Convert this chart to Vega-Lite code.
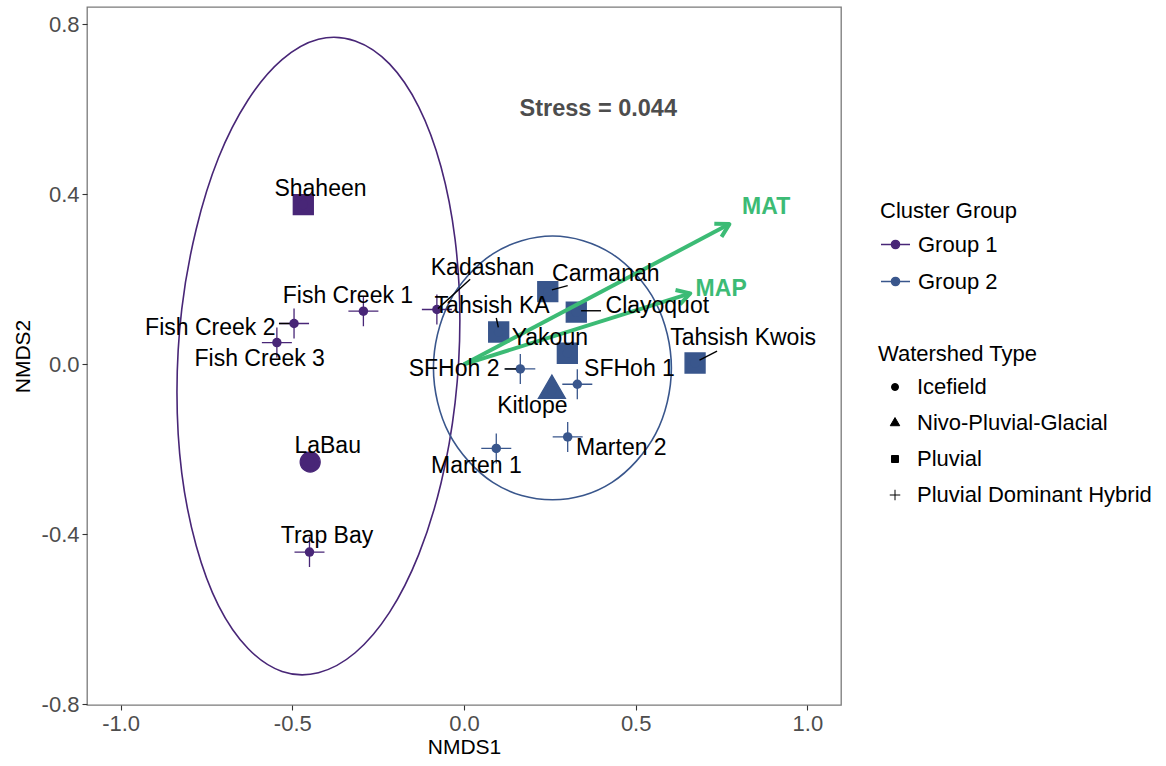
{
  "$schema": "https://vega.github.io/schema/vega-lite/v6.json",
  "width": 754,
  "height": 698,
  "autosize": {"type": "none"},
  "padding": {"left": 87, "top": 7, "right": 325, "bottom": 61},
  "background": "white",
  "config": {
    "font": "Liberation Sans",
    "view": {"stroke": "#7A7A7A", "strokeWidth": 1.3},
    "axis": {
      "domain": false,
      "grid": false,
      "tickColor": "#333333",
      "tickSize": 5,
      "tickWidth": 1.1,
      "labelFont": "Liberation Sans",
      "labelFontSize": 22,
      "labelColor": "#4D4D4D",
      "labelPadding": 3,
      "titleFont": "Liberation Sans",
      "titleFontSize": 21,
      "titleFontWeight": "normal",
      "titleColor": "black"
    },
    "axisX": {"titlePadding": 2},
    "axisY": {"titlePadding": 8},
    "legend": {
      "padding": 0,
      "titleFont": "Liberation Sans",
      "titleFontSize": 22,
      "titleFontWeight": "normal",
      "titleColor": "black",
      "labelFont": "Liberation Sans",
      "labelFontSize": 22,
      "labelColor": "black",
      "labelLimit": 0
    }
  },
  "datasets": {
    "sites": [
      {"name": "Shaheen", "group": "Group 1", "type": "Pluvial", "x": -0.468, "y": 0.376, "lx": -0.418, "ly": 0.412},
      {"name": "Fish Creek 1", "group": "Group 1", "type": "Pluvial Dominant Hybrid", "x": -0.293, "y": 0.125, "lx": -0.338, "ly": 0.160},
      {"name": "Fish Creek 2", "group": "Group 1", "type": "Pluvial Dominant Hybrid", "x": -0.495, "y": 0.096, "lx": -0.739, "ly": 0.086},
      {"name": "Fish Creek 3", "group": "Group 1", "type": "Pluvial Dominant Hybrid", "x": -0.545, "y": 0.051, "lx": -0.595, "ly": 0.012},
      {"name": "Kadashan", "group": "Group 1", "type": "Pluvial Dominant Hybrid", "x": -0.079, "y": 0.129, "lx": 0.054, "ly": 0.227},
      {"name": "LaBau", "group": "Group 1", "type": "Icefield", "x": -0.448, "y": -0.230, "lx": -0.397, "ly": -0.192},
      {"name": "Trap Bay", "group": "Group 1", "type": "Pluvial Dominant Hybrid", "x": -0.450, "y": -0.442, "lx": -0.399, "ly": -0.405},
      {"name": "Carmanah", "group": "Group 2", "type": "Pluvial", "x": 0.244, "y": 0.171, "lx": 0.413, "ly": 0.212},
      {"name": "Clayoquot", "group": "Group 2", "type": "Pluvial", "x": 0.327, "y": 0.123, "lx": 0.563, "ly": 0.137},
      {"name": "Tahsish KA", "group": "Group 2", "type": "Pluvial", "x": 0.101, "y": 0.076, "lx": 0.082, "ly": 0.137},
      {"name": "Yakoun", "group": "Group 2", "type": "Pluvial", "x": 0.301, "y": 0.026, "lx": 0.250, "ly": 0.063},
      {"name": "SFHoh 2", "group": "Group 2", "type": "Pluvial Dominant Hybrid", "x": 0.164, "y": -0.011, "lx": -0.029, "ly": -0.011},
      {"name": "SFHoh 1", "group": "Group 2", "type": "Pluvial Dominant Hybrid", "x": 0.330, "y": -0.047, "lx": 0.482, "ly": -0.011},
      {"name": "Kitlope", "group": "Group 2", "type": "Nivo-Pluvial-Glacial", "x": 0.256, "y": -0.062, "lx": 0.199, "ly": -0.098},
      {"name": "Tahsish Kwois", "group": "Group 2", "type": "Pluvial", "x": 0.673, "y": 0.003, "lx": 0.813, "ly": 0.063},
      {"name": "Marten 2", "group": "Group 2", "type": "Pluvial Dominant Hybrid", "x": 0.302, "y": -0.171, "lx": 0.458, "ly": -0.196},
      {"name": "Marten 1", "group": "Group 2", "type": "Pluvial Dominant Hybrid", "x": 0.094, "y": -0.198, "lx": 0.036, "ly": -0.239}
    ],
    "segments": [
      {"name": "Fish Creek 2", "x": -0.539, "y": 0.096, "x2": -0.508, "y2": 0.096},
      {"name": "Kadashan", "x": 0.018, "y": 0.200, "x2": -0.076, "y2": 0.131},
      {"name": "Tahsish KA", "x": 0.094, "y": 0.109, "x2": 0.100, "y2": 0.087},
      {"name": "Carmanah", "x": 0.256, "y": 0.175, "x2": 0.302, "y2": 0.185},
      {"name": "Clayoquot", "x": 0.341, "y": 0.126, "x2": 0.399, "y2": 0.126},
      {"name": "Tahsish Kwois", "x": 0.686, "y": 0.010, "x2": 0.737, "y2": 0.031},
      {"name": "SFHoh 2", "x": 0.118, "y": -0.011, "x2": 0.152, "y2": -0.011}
    ],
    "ellipses": [
      {"group": "Group 1", "i": 0, "x": -0.012, "y": 0.104},
      {"group": "Group 1", "i": 1, "x": -0.026, "y": 0.294},
      {"group": "Group 1", "i": 2, "x": -0.067, "y": 0.465},
      {"group": "Group 1", "i": 3, "x": -0.132, "y": 0.606},
      {"group": "Group 1", "i": 4, "x": -0.217, "y": 0.707},
      {"group": "Group 1", "i": 5, "x": -0.317, "y": 0.761},
      {"group": "Group 1", "i": 6, "x": -0.424, "y": 0.765},
      {"group": "Group 1", "i": 7, "x": -0.530, "y": 0.717},
      {"group": "Group 1", "i": 8, "x": -0.629, "y": 0.622},
      {"group": "Group 1", "i": 9, "x": -0.715, "y": 0.486},
      {"group": "Group 1", "i": 10, "x": -0.780, "y": 0.318},
      {"group": "Group 1", "i": 11, "x": -0.822, "y": 0.130},
      {"group": "Group 1", "i": 12, "x": -0.836, "y": -0.066},
      {"group": "Group 1", "i": 13, "x": -0.822, "y": -0.256},
      {"group": "Group 1", "i": 14, "x": -0.780, "y": -0.427},
      {"group": "Group 1", "i": 15, "x": -0.715, "y": -0.568},
      {"group": "Group 1", "i": 16, "x": -0.629, "y": -0.669},
      {"group": "Group 1", "i": 17, "x": -0.530, "y": -0.723},
      {"group": "Group 1", "i": 18, "x": -0.424, "y": -0.726},
      {"group": "Group 1", "i": 19, "x": -0.317, "y": -0.679},
      {"group": "Group 1", "i": 20, "x": -0.217, "y": -0.584},
      {"group": "Group 1", "i": 21, "x": -0.132, "y": -0.448},
      {"group": "Group 1", "i": 22, "x": -0.067, "y": -0.280},
      {"group": "Group 1", "i": 23, "x": -0.026, "y": -0.091},
      {"group": "Group 2", "i": 0, "x": 0.604, "y": -0.009},
      {"group": "Group 2", "i": 1, "x": 0.592, "y": 0.071},
      {"group": "Group 2", "i": 2, "x": 0.558, "y": 0.146},
      {"group": "Group 2", "i": 3, "x": 0.502, "y": 0.210},
      {"group": "Group 2", "i": 4, "x": 0.431, "y": 0.260},
      {"group": "Group 2", "i": 5, "x": 0.347, "y": 0.291},
      {"group": "Group 2", "i": 6, "x": 0.258, "y": 0.302},
      {"group": "Group 2", "i": 7, "x": 0.168, "y": 0.291},
      {"group": "Group 2", "i": 8, "x": 0.084, "y": 0.260},
      {"group": "Group 2", "i": 9, "x": 0.013, "y": 0.210},
      {"group": "Group 2", "i": 10, "x": -0.043, "y": 0.146},
      {"group": "Group 2", "i": 11, "x": -0.077, "y": 0.071},
      {"group": "Group 2", "i": 12, "x": -0.089, "y": -0.009},
      {"group": "Group 2", "i": 13, "x": -0.077, "y": -0.089},
      {"group": "Group 2", "i": 14, "x": -0.043, "y": -0.164},
      {"group": "Group 2", "i": 15, "x": 0.013, "y": -0.228},
      {"group": "Group 2", "i": 16, "x": 0.084, "y": -0.278},
      {"group": "Group 2", "i": 17, "x": 0.168, "y": -0.309},
      {"group": "Group 2", "i": 18, "x": 0.258, "y": -0.319},
      {"group": "Group 2", "i": 19, "x": 0.347, "y": -0.309},
      {"group": "Group 2", "i": 20, "x": 0.431, "y": -0.278},
      {"group": "Group 2", "i": 21, "x": 0.502, "y": -0.228},
      {"group": "Group 2", "i": 22, "x": 0.558, "y": -0.164},
      {"group": "Group 2", "i": 23, "x": 0.592, "y": -0.089}
    ],
    "arrows": [
      {"part": "MAT shaft", "i": 0, "x": 0.0, "y": 0.0},
      {"part": "MAT shaft", "i": 1, "x": 0.773, "y": 0.330},
      {"part": "MAT head", "i": 0, "x": 0.750, "y": 0.300},
      {"part": "MAT head", "i": 1, "x": 0.773, "y": 0.330},
      {"part": "MAT head", "i": 2, "x": 0.729, "y": 0.331},
      {"part": "MAP shaft", "i": 0, "x": 0.0, "y": 0.0},
      {"part": "MAP shaft", "i": 1, "x": 0.659, "y": 0.167},
      {"part": "MAP head", "i": 0, "x": 0.629, "y": 0.141},
      {"part": "MAP head", "i": 1, "x": 0.659, "y": 0.167},
      {"part": "MAP head", "i": 2, "x": 0.616, "y": 0.175}
    ],
    "vectors": [
      {"var": "MAT", "x": 0.880, "y": 0.370},
      {"var": "MAP", "x": 0.749, "y": 0.178}
    ],
    "stress": [
      {"label": "Stress = 0.044", "x": 0.391, "y": 0.601}
    ]
  },
  "layer": [
    {
      "data": {"name": "ellipses"},
      "mark": {"type": "line", "interpolate": "cardinal-closed", "strokeWidth": 1.6},
      "encoding": {
        "x": {"field": "x", "type": "quantitative", "title": "NMDS1",
              "scale": {"domain": [-1.098, 1.098], "nice": false, "zero": false},
              "axis": {"values": [-1, -0.5, 0, 0.5, 1], "format": ".1f", "labelExpr": "replace(datum.label, '−', '-')"}},
        "y": {"field": "y", "type": "quantitative", "title": "NMDS2",
              "scale": {"domain": [-0.802, 0.841], "nice": false, "zero": false},
              "axis": {"values": [-0.8, -0.4, 0, 0.4, 0.8], "format": ".1f", "labelExpr": "replace(datum.label, '−', '-')"}},
        "color": {"field": "group", "type": "nominal",
                  "scale": {"domain": ["Group 1", "Group 2"], "range": ["#482677", "#39568C"]},
                  "legend": {
                    "title": "Cluster Group",
                    "orient": "none",
                    "legendX": 793,
                    "legendY": 194,
                    "symbolType": "M-1,0H1M0.28,0A0.28,0.28 0 1,1 -0.28,0A0.28,0.28 0 1,1 0.28,0Z",
                    "symbolSize": 841,
                    "symbolStrokeWidth": 1.5,
                    "labelOffset": 7,
                    "rowPadding": 10,
                    "titlePadding": 6
                  }},
        "order": {"field": "i", "type": "quantitative"}
      }
    },
    {
      "data": {"name": "sites"},
      "mark": {"type": "point", "filled": true, "size": 400, "strokeWidth": 1.3, "opacity": 1},
      "encoding": {
        "x": {"field": "x", "type": "quantitative", "title": "NMDS1", "scale": {"domain": [-1.098, 1.098], "nice": false, "zero": false}},
        "y": {"field": "y", "type": "quantitative", "title": "NMDS2", "scale": {"domain": [-0.802, 0.841], "nice": false, "zero": false}},
        "shape": {"field": "type", "type": "nominal",
                  "scale": {"domain": ["Icefield", "Nivo-Pluvial-Glacial", "Pluvial", "Pluvial Dominant Hybrid"],
                            "range": ["circle", "M0,-1.55L1.35,0.78L-1.35,0.78Z", "square", "M-1.5,0H1.5M0,-1.5V1.5"]},
                  "legend": {
                    "title": "Watershed Type",
                    "orient": "none",
                    "legendX": 791,
                    "legendY": 337,
                    "symbolSize": 49,
                    "symbolOffset": 6,
                    "symbolFillColor": "black",
                    "symbolStrokeColor": "black",
                    "symbolStrokeWidth": 1,
                    "labelOffset": 11,
                    "rowPadding": 14,
                    "titlePadding": 10,
                    "encode": {
                      "symbols": {"fill": {"value": "black"}, "stroke": {"value": "black"}, "strokeWidth": {"value": 1}, "opacity": {"value": 1}}
                    }
                  }},
        "color": {"field": "group", "type": "nominal", "scale": {"domain": ["Group 1", "Group 2"], "range": ["#482677", "#39568C"]}},
        "stroke": {"field": "group", "type": "nominal", "scale": {"domain": ["Group 1", "Group 2"], "range": ["#482677", "#39568C"]}, "legend": null}
      }
    },
    {
      "data": {"name": "sites"},
      "mark": {"type": "circle", "size": 90, "opacity": 1},
      "encoding": {
        "x": {"field": "x", "type": "quantitative", "title": "NMDS1", "scale": {"domain": [-1.098, 1.098], "nice": false, "zero": false}},
        "y": {"field": "y", "type": "quantitative", "title": "NMDS2", "scale": {"domain": [-0.802, 0.841], "nice": false, "zero": false}},
        "color": {"field": "group", "type": "nominal", "scale": {"domain": ["Group 1", "Group 2"], "range": ["#482677", "#39568C"]}}
      }
    },
    {
      "data": {"name": "segments"},
      "mark": {"type": "rule", "color": "black", "strokeWidth": 1.4},
      "encoding": {
        "x": {"field": "x", "type": "quantitative", "title": "NMDS1", "scale": {"domain": [-1.098, 1.098], "nice": false, "zero": false}},
        "y": {"field": "y", "type": "quantitative", "title": "NMDS2", "scale": {"domain": [-0.802, 0.841], "nice": false, "zero": false}},
        "x2": {"field": "x2"},
        "y2": {"field": "y2"}
      }
    },
    {
      "data": {"name": "arrows"},
      "mark": {"type": "line", "color": "#3CBB75", "strokeWidth": 4, "strokeCap": "butt", "strokeJoin": "round"},
      "encoding": {
        "x": {"field": "x", "type": "quantitative", "title": "NMDS1", "scale": {"domain": [-1.098, 1.098], "nice": false, "zero": false}},
        "y": {"field": "y", "type": "quantitative", "title": "NMDS2", "scale": {"domain": [-0.802, 0.841], "nice": false, "zero": false}},
        "detail": {"field": "part", "type": "nominal"},
        "order": {"field": "i", "type": "quantitative"}
      }
    },
    {
      "data": {"name": "sites"},
      "mark": {"type": "text", "fontSize": 23, "color": "black", "align": "center", "baseline": "middle", "font": "Liberation Sans"},
      "encoding": {
        "x": {"field": "lx", "type": "quantitative", "title": "NMDS1", "scale": {"domain": [-1.098, 1.098], "nice": false, "zero": false}},
        "y": {"field": "ly", "type": "quantitative", "title": "NMDS2", "scale": {"domain": [-0.802, 0.841], "nice": false, "zero": false}},
        "text": {"field": "name"}
      }
    },
    {
      "data": {"name": "vectors"},
      "mark": {"type": "text", "fontSize": 23, "fontWeight": "bold", "color": "#3CBB75", "align": "center", "baseline": "middle", "font": "Liberation Sans"},
      "encoding": {
        "x": {"field": "x", "type": "quantitative", "title": "NMDS1", "scale": {"domain": [-1.098, 1.098], "nice": false, "zero": false}},
        "y": {"field": "y", "type": "quantitative", "title": "NMDS2", "scale": {"domain": [-0.802, 0.841], "nice": false, "zero": false}},
        "text": {"field": "var"}
      }
    },
    {
      "data": {"name": "stress"},
      "mark": {"type": "text", "fontSize": 23.5, "fontWeight": "bold", "color": "#4D4D4D", "align": "center", "baseline": "middle", "font": "Liberation Sans"},
      "encoding": {
        "x": {"field": "x", "type": "quantitative", "title": "NMDS1", "scale": {"domain": [-1.098, 1.098], "nice": false, "zero": false}},
        "y": {"field": "y", "type": "quantitative", "title": "NMDS2", "scale": {"domain": [-0.802, 0.841], "nice": false, "zero": false}},
        "text": {"field": "label"}
      }
    }
  ]
}
